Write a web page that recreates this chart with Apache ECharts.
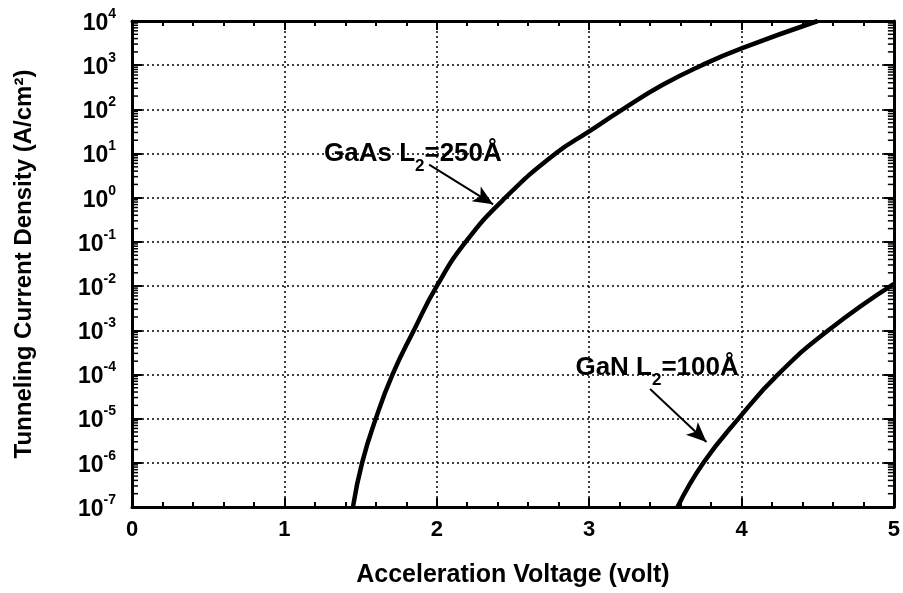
<!DOCTYPE html>
<html>
<head>
<meta charset="utf-8">
<script src="https://cdn.jsdelivr.net/npm/echarts@6/dist/echarts.min.js"></script>
<style>
  html, body { margin: 0; padding: 0; background: #fff; }
  #main { width: 903px; height: 593px; }
</style>
</head>
<body>
<div id="main"></div>
<script>
// GaAs L2=250A curve (volt, log10 of A/cm^2)
var gaasVolt = [1.45, 1.51, 1.60, 1.71, 1.85, 2.00, 2.19, 2.45, 2.78, 3.00, 3.22, 3.48, 3.74, 4.00, 4.50];
var gaasLogJ = [-7, -6, -5, -4, -3, -2, -1, 0, 1, 1.5, 2, 2.55, 3, 3.38, 4];
// GaN L2=100A curve
var ganVolt = [3.58, 3.75, 3.98, 4.24, 4.57, 5.00];
var ganLogJ = [-7, -6, -5, -4, -3, -1.95];
// axis ticks
var xTicks = [0, 1, 2, 3, 4, 5];
var yExponents = [-7, -6, -5, -4, -3, -2, -1, 0, 1, 2, 3, 4];

var font = '"Liberation Sans", Arial, sans-serif';

function pairs(xs, ys) {
	var out = [];
	for (var i = 0; i < xs.length; i++) out.push([xs[i], ys[i]]);
	return out;
}

// log spaced minor ticks (2..9 in each decade)
var minorLog = [];
for (var k = yExponents[0]; k < yExponents[yExponents.length - 1]; k++) {
	for (var m = 2; m <= 9; m++) minorLog.push([0, k + Math.log10(m)]);
}

var myChart = echarts.init(document.getElementById('main'));

var yLabelRich = {
	b: { fontFamily: font, fontWeight: 'bold', fontSize: 23, color: '#000', lineHeight: 28, verticalAlign: 'bottom' },
	s: { fontFamily: font, fontWeight: 'bold', fontSize: 14, color: '#000', lineHeight: 28, verticalAlign: 'top', padding: [0, 0, 8, 0] }
};

var tickStyle = { color: '#000', width: 2 };
var gridLine = { show: true, lineStyle: { color: '#000', type: [2, 3], width: 1.5 } };

var option = {
	animation: false,
	backgroundColor: '#fff',
	grid: { left: 132, right: 3, top: 21, bottom: 85 },
	xAxis: [{
		type: 'value', min: 0, max: 5, interval: 1,
		name: 'Acceleration Voltage (volt)',
		nameLocation: 'middle', nameGap: 56,
		nameTextStyle: { fontFamily: font, fontWeight: 'bold', fontSize: 25, color: '#000' },
		axisLine: { onZero: false, lineStyle: { color: '#000', width: 3 } },
		axisTick: { inside: true, length: 9, lineStyle: tickStyle },
		minorTick: { show: true, splitNumber: 5, length: 5, lineStyle: tickStyle },
		axisLabel: { margin: 12, fontFamily: font, fontWeight: 'bold', fontSize: 22, color: '#000' },
		splitLine: gridLine
	}, {
		type: 'value', min: 0, max: 5, interval: 1, position: 'top',
		axisLine: { onZero: false, lineStyle: { color: '#000', width: 3 } },
		axisTick: { inside: true, length: 9, lineStyle: tickStyle },
		minorTick: { show: true, splitNumber: 5, length: 5, lineStyle: tickStyle },
		axisLabel: { show: false },
		splitLine: { show: false }
	}],
	yAxis: [{
		type: 'value', min: -7, max: 4, interval: 1,
		name: 'Tunneling Current Density (A/cm²)',
		nameLocation: 'middle', nameGap: 96,
		nameTextStyle: { fontFamily: font, fontWeight: 'bold', fontSize: 24, color: '#000' },
		axisLine: { onZero: false, lineStyle: { color: '#000', width: 3 } },
		axisTick: { inside: true, length: 10, lineStyle: tickStyle },
		axisLabel: {
			margin: 16,
			formatter: function(v) { return '{b|10}{s|' + Math.round(v) + '}'; },
			rich: yLabelRich
		},
		splitLine: gridLine
	}, {
		type: 'value', min: -7, max: 4, interval: 1, position: 'right',
		axisLine: { onZero: false, lineStyle: { color: '#000', width: 3 } },
		axisTick: { inside: true, length: 10, lineStyle: tickStyle },
		axisLabel: { show: false },
		splitLine: { show: false }
	}],
	series: [{
		name: 'GaAs', type: 'line', smooth: 0.5, showSymbol: false,
		data: pairs(gaasVolt, gaasLogJ),
		lineStyle: { color: '#000', width: 4.5 },
		markLine: {
			silent: true, symbol: ['none', 'arrow'], symbolSize: [13, 20],
			label: { show: false },
			lineStyle: { color: '#000', width: 2, type: 'solid' },
			data: [[{ coord: [1.95, 0.75] }, { coord: [2.37, -0.15] }]]
		}
	}, {
		name: 'GaN', type: 'line', smooth: 0.5, showSymbol: false,
		data: pairs(ganVolt, ganLogJ),
		lineStyle: { color: '#000', width: 4.5 },
		markLine: {
			silent: true, symbol: ['none', 'arrow'], symbolSize: [13, 20],
			label: { show: false },
			lineStyle: { color: '#000', width: 2, type: 'solid' },
			data: [[{ coord: [3.40, -4.33] }, { coord: [3.77, -5.53] }]]
		}
	}, {
		// minor ticks of the log axis, left and right
		name: 'minor', type: 'custom', silent: true,
		data: minorLog,
		renderItem: function(params, api) {
			var y = api.value(1);
			var l = api.coord([0, y]);
			var r = api.coord([5, y]);
			return {
				type: 'group',
				children: [
					{ type: 'line', shape: { x1: l[0], y1: l[1], x2: l[0] + 6, y2: l[1] }, style: { stroke: '#000', lineWidth: 1.5 } },
					{ type: 'line', shape: { x1: r[0], y1: r[1], x2: r[0] - 6, y2: r[1] }, style: { stroke: '#000', lineWidth: 1.5 } }
				]
			};
		}
	}]
};
myChart.setOption(option);

// curve labels
var labelRich = {
	n: { fontFamily: font, fontWeight: 'bold', fontSize: 26, color: '#000', lineHeight: 34, verticalAlign: 'top' },
	sub: { fontFamily: font, fontWeight: 'bold', fontSize: 17, color: '#000', lineHeight: 34, verticalAlign: 'bottom' }
};
var p1 = myChart.convertToPixel({ gridIndex: 0 }, [1.26, 0.91]);
var p2 = myChart.convertToPixel({ gridIndex: 0 }, [2.91, -3.95]);
myChart.setOption({
	graphic: [{
		type: 'text', x: p1[0], y: p1[1], silent: true,
		style: { text: '{n|GaAs L}{sub|2}{n|=250Å}', rich: labelRich, verticalAlign: 'middle' }
	}, {
		type: 'text', x: p2[0], y: p2[1], silent: true,
		style: { text: '{n|GaN L}{sub|2}{n|=100Å}', rich: labelRich, verticalAlign: 'middle' }
	}]
});
</script>
</body>
</html>
